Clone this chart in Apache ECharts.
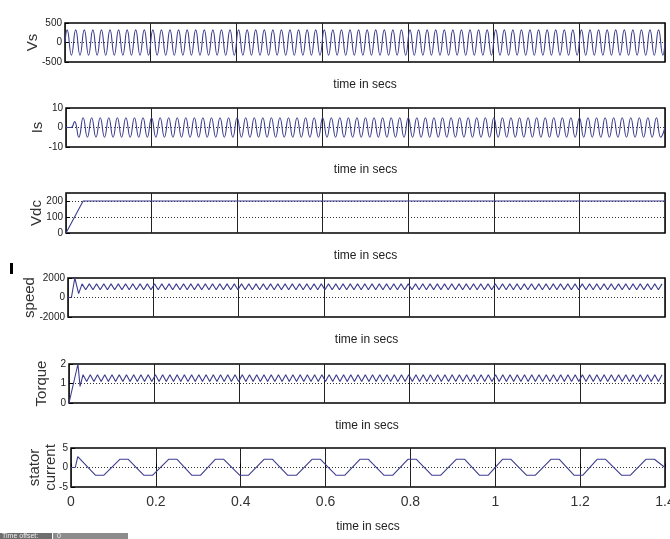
<!DOCTYPE html>
<html><head><meta charset="utf-8">
<script src="https://cdn.jsdelivr.net/npm/echarts@6/dist/echarts.min.js"></script>
<style>html,body{margin:0;padding:0;background:#fff}#c{width:670px;height:539px}</style>
</head><body><div id="c"></div>
<script>
// ---- tick labels / names ----
const xTickLabels = ['0','0.2','0.4','0.6','0.8','1','1.2','1.4'];
const yNames = ['Vs','Is','Vdc','speed','Torque','stator\ncurrent'];
const xName = 'time in secs';

// ---- Vs (50 Hz supply voltage): peaks and troughs per cycle ----
const vsFirstPeak = 0.005, vsHalf = 0.01;
const vsPeaks = [
325,325,325,325,325,325,325,325,325,325,
325,325,325,325,325,325,325,325,325,325,
325,325,325,325,325,325,325,325,325,325,
325,325,325,325,325,325,325,325,325,325,
325,325,325,325,325,325,325,325,325,325,
325,325,325,325,325,325,325,325,325,325,
325,325,325,325,325,325,325,325,325,325];
const vsTroughs = [
-325,-325,-325,-325,-325,-325,-325,-325,-325,-325,
-325,-325,-325,-325,-325,-325,-325,-325,-325,-325,
-325,-325,-325,-325,-325,-325,-325,-325,-325,-325,
-325,-325,-325,-325,-325,-325,-325,-325,-325,-325,
-325,-325,-325,-325,-325,-325,-325,-325,-325,-325,
-325,-325,-325,-325,-325,-325,-325,-325,-325,-325,
-325,-325,-325,-325,-325,-325,-325,-325,-325,-325];

// ---- Is (supply current) ----
const isStartT = [0, 0.012];
const isStartV = [0, 0];
const isFirstPeak = 0.02, isHalf = 0.01;
const isPeaks = [
3,5,5,5,5,5,5,5,5,5,
5,5,5,5,5,5,5,5,5,5,
5,5,5,5,5,5,5,5,5,5,
5,5,5,5,5,5,5,5,5,5,
5,5,5,5,5,5,5,5,5,5,
5,5,5,5,5,5,5,5,5,5,
5,5,5,5,5,5,5,5,5];
const isTroughs = [
-5,-5,-5,-5,-5,-5,-5,-5,-5,-5,
-5,-5,-5,-5,-5,-5,-5,-5,-5,-5,
-5,-5,-5,-5,-5,-5,-5,-5,-5,-5,
-5,-5,-5,-5,-5,-5,-5,-5,-5,-5,
-5,-5,-5,-5,-5,-5,-5,-5,-5,-5,
-5,-5,-5,-5,-5,-5,-5,-5,-5,-5,
-5,-5,-5,-5,-5,-5,-5,-5,-5];

// ---- Vdc ----
const vdcT = [0, 0.04, 1.4];
const vdcV = [0, 200, 200];

// ---- speed ----
const spdStartT = [0, 0.008, 0.016, 0.025, 0.033];
const spdStartV = [0, 0, 2000, 400, 1400];
const ripFirst = 0.0415, ripHalf = 0.0085;
const spdLows = [
800,800,800,800,800,800,800,800,800,800,
800,800,800,800,800,800,800,800,800,800,
800,800,800,800,800,800,800,800,800,800,
800,800,800,800,800,800,800,800,800,800,
800,800,800,800,800,800,800,800,800,800,
800,800,800,800,800,800,800,800,800,800,
800,800,800,800,800,800,800,800,800,800,
800,800,800,800,800,800,800,800,800,800];
const spdHighs = [
1400,1400,1400,1400,1400,1400,1400,1400,1400,1400,
1400,1400,1400,1400,1400,1400,1400,1400,1400,1400,
1400,1400,1400,1400,1400,1400,1400,1400,1400,1400,
1400,1400,1400,1400,1400,1400,1400,1400,1400,1400,
1400,1400,1400,1400,1400,1400,1400,1400,1400,1400,
1400,1400,1400,1400,1400,1400,1400,1400,1400,1400,
1400,1400,1400,1400,1400,1400,1400,1400,1400,1400,
1400,1400,1400,1400,1400,1400,1400,1400,1400,1400];

// ---- Torque ----
const tqStartT = [0, 0.021, 0.026, 0.033];
const tqStartV = [0, 2, 0.85, 1.45];
const tqLows = [
1.1,1.1,1.1,1.1,1.1,1.1,1.1,1.1,1.1,1.1,
1.1,1.1,1.1,1.1,1.1,1.1,1.1,1.1,1.1,1.1,
1.1,1.1,1.1,1.1,1.1,1.1,1.1,1.1,1.1,1.1,
1.1,1.1,1.1,1.1,1.1,1.1,1.1,1.1,1.1,1.1,
1.1,1.1,1.1,1.1,1.1,1.1,1.1,1.1,1.1,1.1,
1.1,1.1,1.1,1.1,1.1,1.1,1.1,1.1,1.1,1.1,
1.1,1.1,1.1,1.1,1.1,1.1,1.1,1.1,1.1,1.1,
1.1,1.1,1.1,1.1,1.1,1.1,1.1,1.1,1.1,1.1];
const tqHighs = [
1.45,1.45,1.45,1.45,1.45,1.45,1.45,1.45,1.45,1.45,
1.45,1.45,1.45,1.45,1.45,1.45,1.45,1.45,1.45,1.45,
1.45,1.45,1.45,1.45,1.45,1.45,1.45,1.45,1.45,1.45,
1.45,1.45,1.45,1.45,1.45,1.45,1.45,1.45,1.45,1.45,
1.45,1.45,1.45,1.45,1.45,1.45,1.45,1.45,1.45,1.45,
1.45,1.45,1.45,1.45,1.45,1.45,1.45,1.45,1.45,1.45,
1.45,1.45,1.45,1.45,1.45,1.45,1.45,1.45,1.45,1.45,
1.45,1.45,1.45,1.45,1.45,1.45,1.45,1.45,1.45,1.45];

// ---- stator current (trapezoidal) ----
const scT = [0,0.01,0.016,0.058,0.077,0.115,0.135,0.172,0.192,0.230,0.250,0.285,0.305,0.340,0.360,
0.398,0.418,0.455,0.475,0.511,0.531,0.568,0.588,0.625,0.645,0.681,0.701,0.738,0.758,0.794,0.814,
0.851,0.871,0.908,0.928,0.963,0.983,1.017,1.037,1.074,1.094,1.131,1.151,1.186,1.206,1.240,1.260,
1.298,1.318,1.355,1.375,1.4];
const scV = [0,0,2.8,-2,-2,2.1,2.1,-2,-2,2.1,2.1,-2,-2,2.1,2.1,
-2,-2,2.1,2.1,-2,-2,2.1,2.1,-2,-2,2.1,2.1,-2,-2,2.1,2.1,
-2,-2,2.1,2.1,-2,-2,2.1,2.1,-2,-2,2.1,2.1,-2,-2,2.1,2.1,
-2,-2,2.1,2.1,0];

// ---- helpers ----
function pairs(t, v){ return t.map((x,i)=>[x, v[i]]); }
function alternate(t0, half, a, b){
  const out = [];
  for (let i = 0; i < a.length; i++){
    out.push([t0 + 2*i*half, a[i]]);
    if (i < b.length) out.push([t0 + (2*i+1)*half, b[i]]);
  }
  return out;
}

const vsData = [[0,0]].concat(alternate(vsFirstPeak, vsHalf, vsPeaks, vsTroughs), [[1.4,0]]);
const isData = pairs(isStartT, isStartV).concat(alternate(isFirstPeak, isHalf, isPeaks, isTroughs), [[1.4,0]]);
const vdcData = pairs(vdcT, vdcV);
const spdData = pairs(spdStartT, spdStartV).concat(alternate(ripFirst, ripHalf, spdLows, spdHighs));
const tqData = pairs(tqStartT, tqStartV).concat(alternate(ripFirst, ripHalf, tqLows, tqHighs));
const scData = pairs(scT, scV);

// ---- layout ----
const gridPos = [
  {left:65, top:23, height:39},
  {left:66, top:108, height:39},
  {left:66, top:193, height:40},
  {left:68, top:278, height:39},
  {left:69, top:364, height:39},
  {left:71, top:448, height:39}
];
const yRanges = [
  {min:-500, max:500, interval:500},
  {min:-10, max:10, interval:10},
  {min:0, max:250, interval:100},
  {min:-2000, max:2000, interval:2000},
  {min:0, max:2, interval:1},
  {min:-5, max:5, interval:5}
];
const yNameGaps = [24, 20, 21, 30, 19, 12];
const sans = "'Liberation Sans',Arial,sans-serif";
const lineColor = '#3d3d8f';

const grid = gridPos.map(g => ({left:g.left, top:g.top, height:g.height, right:5,
  outerBoundsMode:'none', containLabel:false,
  show:true, borderColor:'#000', borderWidth:1.5, backgroundColor:'#fff'}));

const xAxis = gridPos.map((g,i) => ({
  gridIndex:i, type:'value', min:0, max:1.4, interval:0.2,
  axisLine:{show:false},
  axisTick:{show:i===5, inside:true, length:4, lineStyle:{color:'#000'}},
  axisLabel:{show:i===5, formatter:v=>xTickLabels[Math.round(v/0.2)], fontFamily:sans, fontSize:14, color:'#333', margin:8},
  splitLine:{show:true, lineStyle:{color:'#222', width:1}},
  name:xName, nameLocation:'middle', nameGap: i===5 ? 34 : 17, nameMoveOverlap:false,
  nameTextStyle:{fontFamily:sans, fontSize:12, color:'#222', verticalAlign:'top'}
}));

const yAxis = gridPos.map((g,i) => ({
  gridIndex:i, type:'value', min:yRanges[i].min, max:yRanges[i].max, interval:yRanges[i].interval,
  axisLine:{show:false},
  axisTick:{show:true, inside:true, length:4, lineStyle:{color:'#000'}},
  axisLabel:{fontFamily:sans, fontSize:10, color:'#222', margin:3, showMaxLabel: i!==2,
    formatter: v => (i===2 && v>200) ? '' : String(v)},
  splitLine:{show:true, showMinLine:false, showMaxLine:false, lineStyle:{type:[1,2], color:'#333', width:1}},
  name:yNames[i], nameLocation:'middle', nameRotate:90, nameGap:yNameGaps[i], nameMoveOverlap:false,
  nameTextStyle:{fontFamily:sans, fontSize:15, color:'#333', lineHeight:16}
}));

const datasets = [vsData, isData, vdcData, spdData, tqData, scData];
const smoothFlags = [true, true, false, false, false, false];
const series = datasets.map((d,i) => ({
  type:'line', xAxisIndex:i, yAxisIndex:i, data:d, showSymbol:false, smooth:smoothFlags[i],
  lineStyle:{color:lineColor, width:1.1}, animation:false, z:3
}));

const chart = echarts.init(document.getElementById('c'), null, {renderer:'canvas'});
chart.setOption({
  backgroundColor:'#fff',
  animation:false,
  grid, xAxis, yAxis, series,
  graphic:[
    {type:'rect', left:10, top:263, shape:{width:3, height:11}, style:{fill:'#000'}},
    {type:'rect', left:0, top:533, shape:{width:52, height:7}, style:{fill:'#6e6e6e'}},
    {type:'rect', left:53, top:533, shape:{width:75, height:7}, style:{fill:'#8c8c8c'}},
    {type:'text', left:2, top:533, style:{text:'Time offset:', font:'7px sans-serif', fill:'#eee'}},
    {type:'text', left:57, top:533, style:{text:'0', font:'7px sans-serif', fill:'#eee'}}
  ]
});
</script>
</body></html>
